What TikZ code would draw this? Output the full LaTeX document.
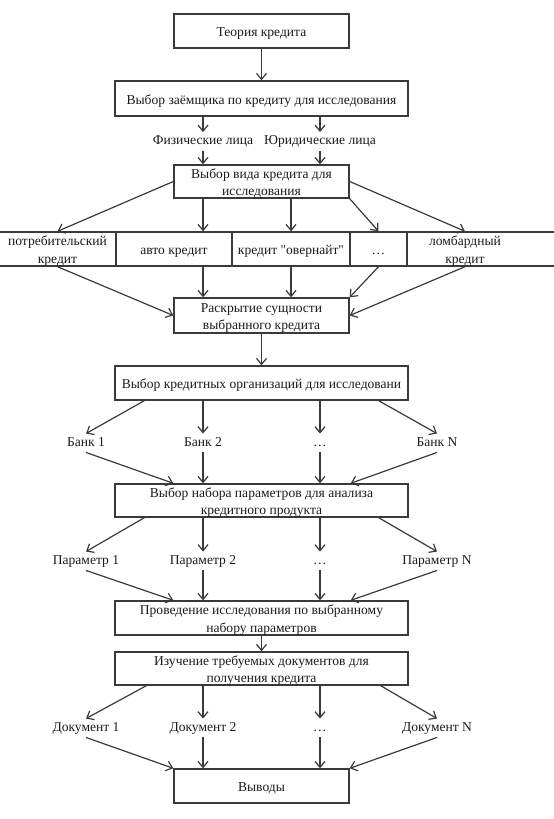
\documentclass[tikz,border=0pt]{standalone}
\usepackage{fontspec}
\setmainfont{Liberation Serif}
\usetikzlibrary{arrows.meta}
\newcommand\diafont{\fontsize{13.6}{17.5}\selectfont}
\newcommand\sq{\XeTeXglyph\XeTeXcharglyph"22\relax}
\definecolor{lineclr}{HTML}{3A3A3A}
\definecolor{txtclr}{HTML}{1A1A1A}
\begin{document}
\begin{tikzpicture}[x=1bp,y=-1bp,
  box/.style={draw=lineclr, line width=1.4bp, minimum height=34bp, inner sep=0pt, align=center, font=\diafont, text=txtclr, text height=14bp, text depth=3bp},
  two/.style={text height=30.5bp, text depth=2.5bp},
  cell/.style={box},
  lab/.style={inner sep=2.5bp, font=\diafont, text=txtclr, text height=10bp, text depth=3.5bp},
  arr/.style={draw=lineclr, line width=1.2bp, -{Straight Barb[length=6bp,width=10bp]}}]
\useasboundingbox (0,0) rectangle (554,819);

% boxes
\node[box, minimum width=175bp] (b1) at (261.5,31) {Теория кредита};
\node[box, minimum width=293bp, minimum height=35bp] (b2) at (261.5,98.5) {Выбор заёмщика по кредиту для исследования};
\node[lab] (fiz) at (203,141.5) {Физические лица};
\node[lab] (yur) at (320,141.5) {Юридические лица};
\node[box, two, minimum width=175bp, minimum height=33bp] (b3) at (261.5,181.5) {Выбор вида кредита для\\исследования};

% cells
\node[cell, two, minimum width=117bp] (c1) at (57.5,249) {потребительский\\кредит};
\node[cell, minimum width=116bp] (c2) at (174,249) {авто кредит};
\node[cell, minimum width=118bp] (c3) at (291,249) {кредит \sq овернайт\sq};
\node[cell, minimum width=57bp] (c4) at (378.5,249) {…};
\node[cell, minimum width=155bp, anchor=west] (c5) at (407,249) {};
\node[align=center, inner sep=0pt, font=\diafont, text=txtclr, two] (t5) at (465,249) {ломбардный\\кредит};

\node[box, two, minimum width=175bp, minimum height=35bp] (b4) at (261.5,315.5) {Раскрытие сущности\\выбранного кредита};
\node[box, minimum width=293bp] (b5) at (261.5,383) {Выбор кредитных организаций для исследовани};

\node[lab] (k1) at (86,443) {Банк 1};
\node[lab] (k2) at (203,443) {Банк 2};
\node[lab] (k3) at (320,443) {…};
\node[lab] (k4) at (437,443) {Банк N};

\node[box, two, minimum width=293bp, minimum height=33bp] (b6) at (261.5,500.5) {Выбор набора параметров для анализа\\кредитного продукта};

\node[lab] (p1) at (86,561) {Параметр 1};
\node[lab] (p2) at (203,561) {Параметр 2};
\node[lab] (p3) at (320,561) {…};
\node[lab] (p4) at (437,561) {Параметр N};

\node[box, two, minimum width=293bp] (b7) at (261.5,618) {Проведение исследования по выбранному\\набору параметров};
\node[box, two, minimum width=293bp, minimum height=33bp] (b8) at (261.5,668.5) {Изучение требуемых документов для\\получения кредита};

\node[lab] (d1) at (86,728) {Документ 1};
\node[lab] (d2) at (203,728) {Документ 2};
\node[lab] (d3) at (320,728) {…};
\node[lab] (d4) at (437,728) {Документ N};

\node[box, minimum width=175bp] (b9) at (261.5,786) {Выводы};

% connectors
\draw[arr] (b1.south) -- (b2.north);
\draw[arr] (b2.south -| fiz) -- (fiz.north);
\draw[arr] (b2.south -| yur) -- (yur.north);
\draw[arr] (fiz.south) -- (b3.north -| fiz);
\draw[arr] (yur.south) -- (b3.north -| yur);

\draw[arr] (b3.west) -- (c1.north);
\draw[arr] (b3.south -| fiz) -- (c2.north -| fiz);
\draw[arr] (b3.south -| c3) -- (c3.north);
\draw[arr] (b3.south east) -- (c4.north);
\draw[arr] (b3.east) -- (c5.north -| t5);

\draw[arr] (c1.south) -- (b4.west);
\draw[arr] (c2.south -| fiz) -- (b4.north -| fiz);
\draw[arr] (c3.south) -- (b4.north -| c3);
\draw[arr] (c4.south) -- (b4.north east);
\draw[arr] (c5.south -| t5) -- (b4.east);

\draw[arr] (b4.south) -- (b5.north);

\draw[arr] ([xshift=30bp]b5.south west) -- (k1.north);
\draw[arr] (b5.south -| k2) -- (k2.north);
\draw[arr] (b5.south -| k3) -- (k3.north);
\draw[arr] ([xshift=-30bp]b5.south east) -- (k4.north);
\draw[arr] (k1.south) -- ([xshift=59bp]b6.north west);
\draw[arr] (k2.south) -- (b6.north -| k2);
\draw[arr] (k3.south) -- (b6.north -| k3);
\draw[arr] (k4.south) -- ([xshift=-58bp]b6.north east);

\draw[arr] ([xshift=30bp]b6.south west) -- (p1.north);
\draw[arr] (b6.south -| p2) -- (p2.north);
\draw[arr] (b6.south -| p3) -- (p3.north);
\draw[arr] ([xshift=-30bp]b6.south east) -- (p4.north);
\draw[arr] (p1.south) -- ([xshift=59bp]b7.north west);
\draw[arr] (p2.south) -- (b7.north -| p2);
\draw[arr] (p3.south) -- (b7.north -| p3);
\draw[arr] (p4.south) -- ([xshift=-58bp]b7.north east);

\draw[arr] (b7.south) -- (b8.north);

\draw[arr] ([xshift=32bp]b8.south west) -- (d1.north);
\draw[arr] (b8.south -| d2) -- (d2.north);
\draw[arr] (b8.south -| d3) -- (d3.north);
\draw[arr] ([xshift=-28bp]b8.south east) -- (d4.north);
\draw[arr] (d1.south) -- (b9.north west);
\draw[arr] (d2.south) -- (b9.north -| d2);
\draw[arr] (d3.south) -- (b9.north -| d3);
\draw[arr] (d4.south) -- (b9.north east);
\end{tikzpicture}
\end{document}
